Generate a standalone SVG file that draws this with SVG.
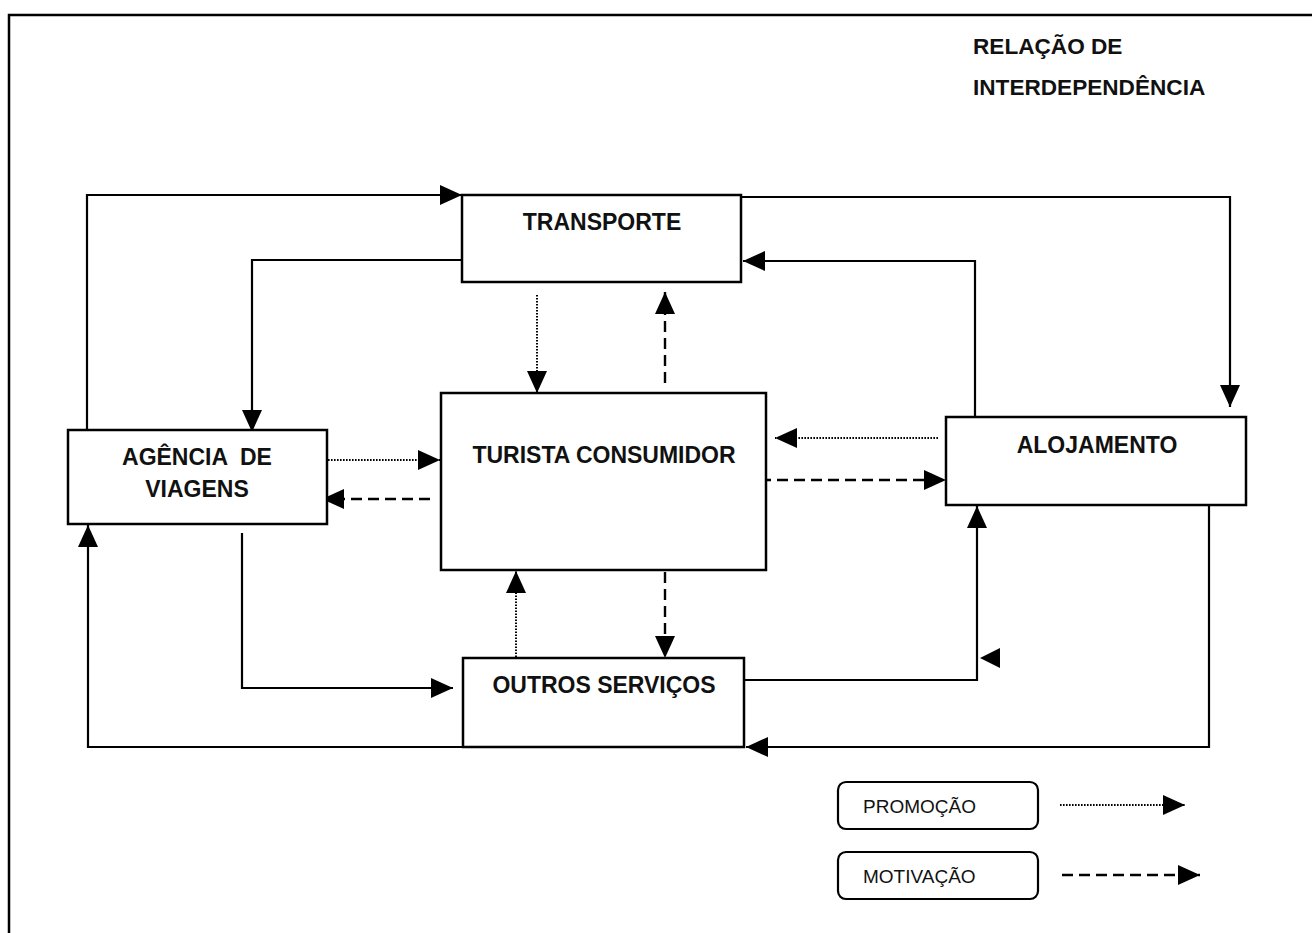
<svg xmlns="http://www.w3.org/2000/svg" width="1312" height="933" viewBox="0 0 1312 933">
<style>
.box{fill:#fff;stroke:#000;stroke-width:2.5}
.lbl{font-family:"Liberation Sans",Arial,sans-serif;font-weight:bold;font-size:23px;fill:#111;text-anchor:middle}
.ttl{font-family:"Liberation Sans",Arial,sans-serif;font-weight:bold;font-size:22.6px;fill:#111}
.leg{font-family:"Liberation Sans",Arial,sans-serif;font-size:19px;fill:#111}
.ln{fill:none;stroke:#000;stroke-width:2.2}
.dot{fill:none;stroke:#000;stroke-width:2;stroke-dasharray:1.6 1.4}
.dash{fill:none;stroke:#000;stroke-width:2.4;stroke-dasharray:11 6}
</style>
<defs>
<marker id="ah" markerUnits="userSpaceOnUse" markerWidth="22" markerHeight="20" refX="22" refY="10" orient="auto">
<path d="M0,0 L22,10 L0,20 z" fill="#000"/>
</marker>
</defs>
<rect x="0" y="0" width="1312" height="933" fill="#fff"/>
<g id="frame">
<path d="M9,933 V15 H1312" fill="none" stroke="#000" stroke-width="2.5"/>
</g>
<g id="title">
<text class="ttl" x="973" y="54">RELAÇÃO DE</text>
<text class="ttl" x="973" y="95">INTERDEPENDÊNCIA</text>
</g>
<g id="connectors">
<path class="ln" d="M87,438 V195 H462" marker-end="url(#ah)"/>
<path class="ln" d="M741,197 H1230 V407" marker-end="url(#ah)"/>
<path class="ln" d="M975,417 V261 H743" marker-end="url(#ah)"/>
<path class="ln" d="M462,260 H252 V432" marker-end="url(#ah)"/>
<path class="ln" d="M242,533 V688 H453" marker-end="url(#ah)"/>
<path class="ln" d="M463,747 H88 V525" marker-end="url(#ah)"/>
<path class="ln" d="M744,680 H977 V506" marker-end="url(#ah)"/>
<polygon points="980,658 1000,648 1000,668" fill="#000"/>
<path class="ln" d="M1209,505 V747 H746" marker-end="url(#ah)"/>
<path class="dot" d="M537,295 V393" marker-end="url(#ah)"/>
<path class="dot" d="M322,460 H440" marker-end="url(#ah)"/>
<path class="dot" d="M938,438 H775" marker-end="url(#ah)"/>
<path class="dot" d="M516,663 V571" marker-end="url(#ah)"/>
<path class="dash" d="M665,383 V292" marker-end="url(#ah)"/>
<path class="dash" d="M430,499 H322" marker-end="url(#ah)"/>
<path class="dash" d="M760,480 H946" marker-end="url(#ah)"/>
<path class="dash" d="M665,572 V658" marker-end="url(#ah)"/>
</g>
<g id="transporte">
<rect class="box" x="462" y="195" width="279" height="87"/>
<text class="lbl" x="602" y="230">TRANSPORTE</text>
</g>
<g id="turista">
<rect class="box" x="441" y="393" width="325" height="177"/>
<text class="lbl" x="604" y="463">TURISTA CONSUMIDOR</text>
</g>
<g id="agencia">
<rect class="box" x="68" y="430" width="259" height="94"/>
<text class="lbl" x="197" y="465" style="white-space:pre" xml:space="preserve">AGÊNCIA  DE</text>
<text class="lbl" x="197" y="497">VIAGENS</text>
</g>
<g id="alojamento">
<rect class="box" x="946" y="417" width="300" height="88"/>
<text class="lbl" x="1097" y="453">ALOJAMENTO</text>
</g>
<g id="outros">
<rect class="box" x="463" y="658" width="281" height="89"/>
<text class="lbl" x="604" y="693">OUTROS SERVIÇOS</text>
</g>
<g id="legend-promocao">
<rect x="838" y="782" width="200" height="47" rx="8" fill="#fff" stroke="#000" stroke-width="2.2"/>
<text class="leg" x="863" y="813">PROMOÇÃO</text>
<path class="dot" d="M1060,805 H1185" marker-end="url(#ah)"/>
</g>
<g id="legend-motivacao">
<rect x="838" y="852" width="200" height="47" rx="8" fill="#fff" stroke="#000" stroke-width="2.2"/>
<text class="leg" x="863" y="883">MOTIVAÇÃO</text>
<path class="dash" d="M1062,875 H1200" marker-end="url(#ah)"/>
</g>
</svg>
